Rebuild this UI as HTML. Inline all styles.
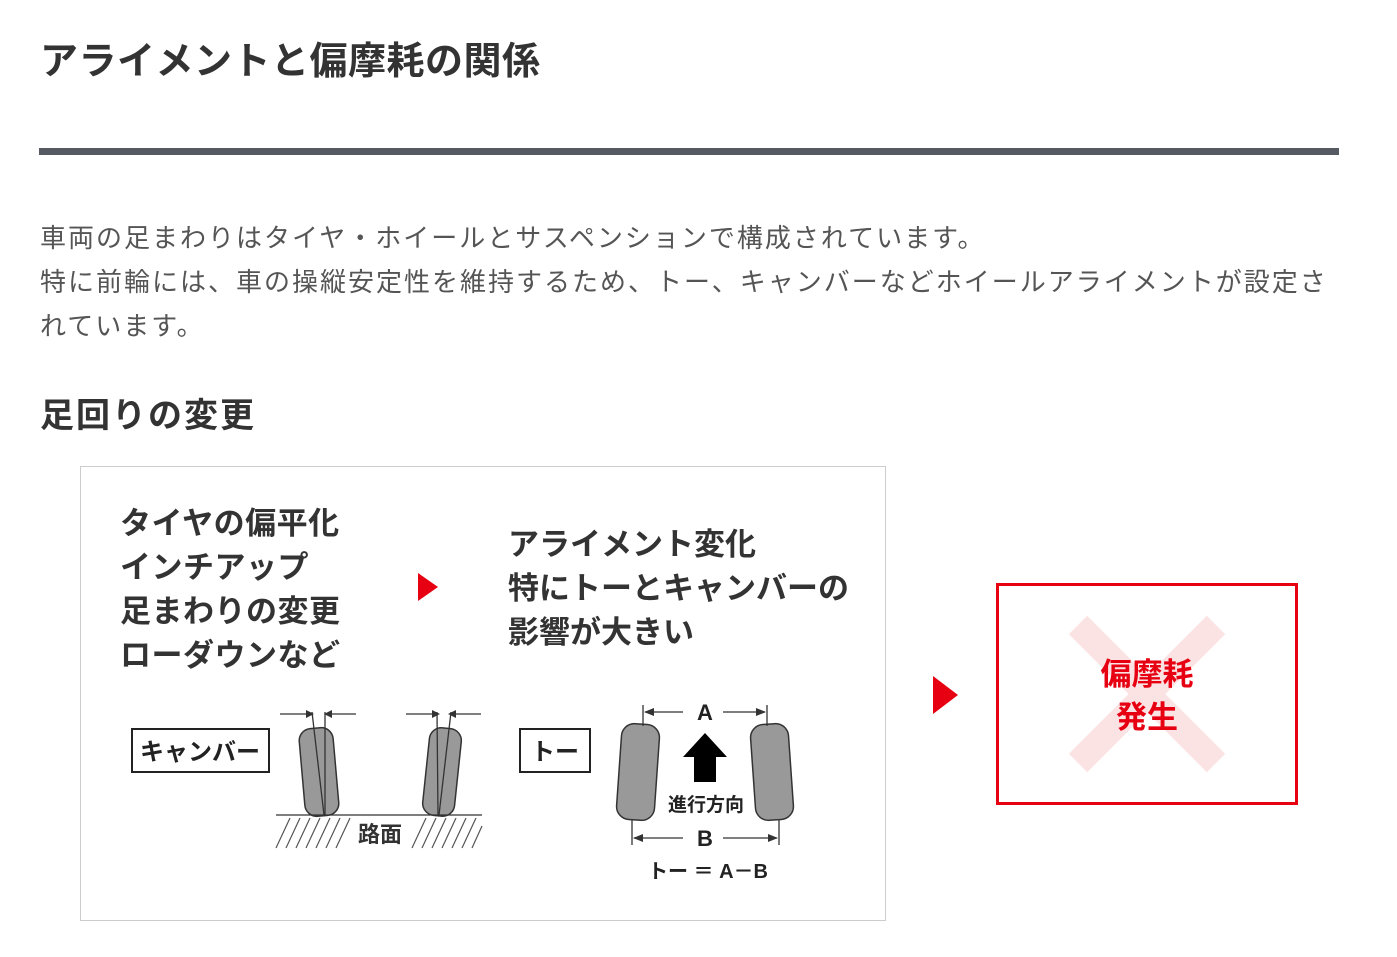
<!DOCTYPE html>
<html><head><meta charset="utf-8"><style>
body{margin:0;width:1397px;height:957px;background:#fff;position:relative;overflow:hidden;font-family:"Liberation Sans","Noto Sans CJK JP",sans-serif;}
.a{position:absolute;white-space:nowrap;}
</style></head><body>
<div class="a" style="left:40px;top:38px;font-size:38px;font-weight:bold;color:#333;letter-spacing:0.5px;line-height:48px;">アライメントと偏摩耗の関係</div>
<div class="a" style="left:39px;top:148px;width:1300px;height:7px;background:#555a63;"></div>
<div class="a" style="left:40px;top:216px;font-size:26px;color:#555;line-height:44px;letter-spacing:2px;">車両の足まわりはタイヤ・ホイールとサスペンションで構成されています。<br>特に前輪には、車の操縦安定性を維持するため、トー、キャンバーなどホイールアライメントが設定さ<br>れています。</div>
<div class="a" style="left:40px;top:394px;font-size:34px;font-weight:bold;color:#333;letter-spacing:2px;line-height:44px;">足回りの変更</div>
<div class="a" style="left:80px;top:466px;width:804px;height:453px;border:1px solid #ccc;"></div>
<div class="a" style="left:120px;top:502px;font-size:31px;font-weight:bold;color:#333;line-height:44px;letter-spacing:0.5px;">タイヤの偏平化<br>インチアップ<br>足まわりの変更<br>ローダウンなど</div>
<div class="a" style="left:508px;top:523px;font-size:31px;font-weight:bold;color:#333;line-height:44px;">アライメント変化<br>特にトーとキャンバーの<br>影響が大きい</div>
<svg class="a" style="left:0;top:0" width="1397" height="957">
<polygon points="418,573 438,587 418,601" fill="#e60012"/>
<polygon points="933,676 958,695 933,714" fill="#e60012"/>
<rect x="132" y="729" width="137" height="43" fill="#fff" stroke="#222" stroke-width="2"/>
<text x="200" y="760" font-size="24" font-weight="bold" text-anchor="middle" fill="#222" font-family="Liberation Sans,Noto Sans CJK JP,sans-serif">キャンバー</text>
<g stroke="#333" stroke-width="1.5" fill="#999">
<rect x="302" y="728" width="34" height="88" rx="12" transform="rotate(-5 319 772)"/>
<rect x="426" y="728" width="32" height="88" rx="12" transform="rotate(6 442 772)"/>
</g>
<g stroke="#333" stroke-width="1.3">
<line x1="312" y1="712" x2="324" y2="815"/><line x1="325" y1="712" x2="325" y2="815"/>
<line x1="437" y1="712" x2="438" y2="815"/><line x1="451" y1="712" x2="439" y2="815"/>
<line x1="280" y1="714" x2="306" y2="714"/><line x1="332" y1="714" x2="356" y2="714"/>
<line x1="406" y1="714" x2="432" y2="714"/><line x1="456" y1="714" x2="481" y2="714"/>
<line x1="276" y1="815" x2="482" y2="815"/>
</g>
<g stroke="#555" stroke-width="1.2">
<line x1="276" y1="848" x2="290" y2="818"/><line x1="286" y1="848" x2="300" y2="818"/><line x1="296" y1="848" x2="310" y2="818"/><line x1="306" y1="848" x2="320" y2="818"/><line x1="316" y1="848" x2="330" y2="818"/><line x1="326" y1="848" x2="340" y2="818"/><line x1="336" y1="848" x2="350" y2="818"/>
<line x1="412" y1="848" x2="426" y2="818"/><line x1="422" y1="848" x2="436" y2="818"/><line x1="432" y1="848" x2="446" y2="818"/><line x1="442" y1="848" x2="456" y2="818"/><line x1="452" y1="848" x2="466" y2="818"/><line x1="462" y1="848" x2="476" y2="818"/><line x1="472" y1="848" x2="482" y2="826"/>
</g>
<polygon points="306,710 306,718 298,714" fill="#333" transform="rotate(180 306 714)"/><polygon points="332,710 332,718 340,714" fill="#333" transform="rotate(180 332 714)"/>
<polygon points="432,710 432,718 424,714" fill="#333" transform="rotate(180 432 714)"/><polygon points="456,710 456,718 464,714" fill="#333" transform="rotate(180 456 714)"/>
<text x="380" y="842" font-size="22" text-anchor="middle" fill="#333" font-weight="bold" font-family="Liberation Sans,Noto Sans CJK JP,sans-serif">路面</text>
<rect x="520" y="729" width="70" height="43" fill="#fff" stroke="#222" stroke-width="2"/>
<text x="555" y="760" font-size="24" font-weight="bold" text-anchor="middle" fill="#222" font-family="Liberation Sans,Noto Sans CJK JP,sans-serif">トー</text>
<g stroke="#333" stroke-width="1.5" fill="#999">
<rect x="619" y="724" width="38" height="96" rx="13" transform="rotate(4 638 772)"/>
<rect x="753" y="724" width="38" height="96" rx="13" transform="rotate(-4 772 772)"/>
</g>
<g stroke="#333" stroke-width="1.3">
<line x1="643" y1="705" x2="643" y2="726"/><line x1="767" y1="705" x2="767" y2="726"/>
<line x1="632" y1="820" x2="632" y2="845"/><line x1="779" y1="820" x2="779" y2="845"/>
<line x1="645" y1="712" x2="683" y2="712"/><line x1="723" y1="712" x2="765" y2="712"/>
<line x1="634" y1="838" x2="683" y2="838"/><line x1="723" y1="838" x2="777" y2="838"/>
</g>
<polygon points="644,712 654,708 654,716" fill="#333"/><polygon points="766,712 756,708 756,716" fill="#333"/>
<polygon points="633,838 643,834 643,842" fill="#333"/><polygon points="778,838 768,834 768,842" fill="#333"/>
<polygon points="705,733 727,757 716,757 716,782 694,782 694,757 683,757" fill="#000"/>
<g font-family="Liberation Sans,Noto Sans CJK JP,sans-serif" fill="#222" text-anchor="middle" font-weight="bold">
<text x="705" y="720" font-size="22">A</text>
<text x="705" y="846" font-size="22">B</text>
<text x="706" y="811" font-size="19">進行方向</text>
<text x="708" y="878" font-size="20">トー ＝ A－B</text>
</g>
<rect x="997.5" y="584.5" width="299" height="219" fill="#fff" stroke="#e60012" stroke-width="3"/>
<g stroke="#fbe3e3" stroke-width="26"><line x1="1078" y1="625" x2="1216" y2="763"/><line x1="1216" y1="625" x2="1078" y2="763"/></g>
<g font-family="Liberation Sans,Noto Sans CJK JP,sans-serif" fill="#e60012" font-weight="bold" font-size="31" text-anchor="middle">
<text x="1147" y="685">偏摩耗</text><text x="1147" y="728">発生</text>
</g>
</svg>
</body></html>
